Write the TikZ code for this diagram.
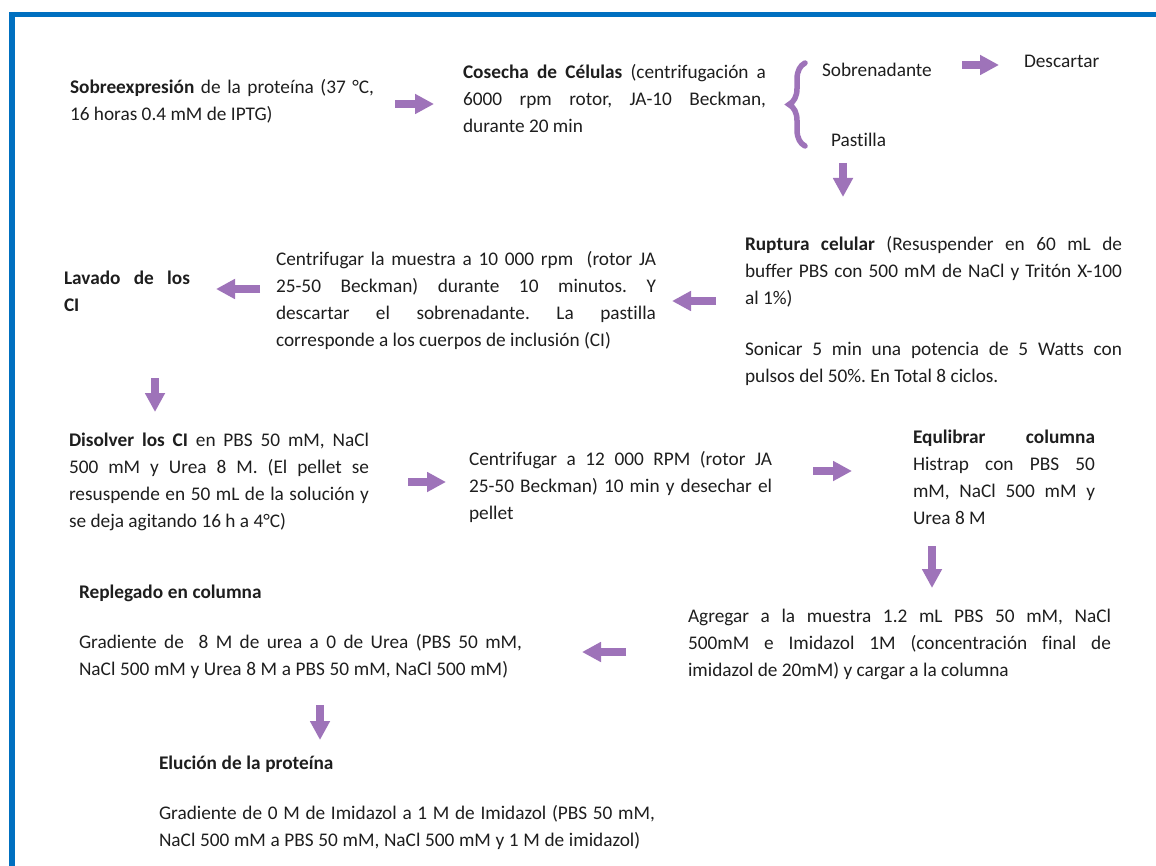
\documentclass[tikz,border=0pt]{standalone}
\usepackage{fontspec}
\setmainfont{Carlito}[Ligatures=NoCommon]
\usetikzlibrary{arrows.meta,decorations.pathreplacing}
\definecolor{bordeblue}{RGB}{0,112,192}
\definecolor{flecha}{RGB}{158,115,185}
\definecolor{tinta}{RGB}{30,30,30}
\newcommand\strutA{\rule{0pt}{20pt}}
\newcommand\apretado{\spaceskip=0.24em plus 0.4em minus 0.02em\relax}
\hyphenpenalty=10000\relax
\exhyphenpenalty=10000\relax
\frenchspacing
\begin{document}
\begin{tikzpicture}[x=1pt,y=-1pt,
  txt/.style={anchor=north west, inner sep=0pt, outer sep=0pt,
    font=\fontsize{19.3}{27}\selectfont, text=tinta},
  jbox/.style={txt, align=justify, text width=#1},
  flechita/.style={draw=flecha, line width=8pt, -{Triangle[width=19pt,length=19pt]}},
  llave/.style={draw=flecha, line width=5.5pt, line cap=round, decorate, decoration={brace, amplitude=16pt}},
  marco/.style={draw=bordeblue},
]
\useasboundingbox (0,0) rectangle (1156,866);
% frame
\draw[marco, line width=5pt] (9,14.5) -- (1156,14.5);
\draw[marco, line width=6pt] (12,12) -- (12,866);

% texts
\node[jbox=304] (sobre) at (70,74) {\strutA\textbf{Sobreexpresión} de la proteína (37 °C,\linebreak 16 horas 0.4 mM de IPTG)};
\node[jbox=303] (cosecha) at (463,59) {\strutA\textbf{Cosecha de Células} (centrifugación a\linebreak 6000 rpm rotor, JA-10 Beckman,\linebreak durante 20 min};
\node[txt] (sobren) at (822,57) {\strutA{}Sobrenadante};
\node[txt] (descartar) at (1024,48) {\strutA{}Descartar};
\node[txt] (pastilla) at (831,127) {\strutA{}Pastilla};
\node[jbox=377] (ruptura) at (745,231) {\strutA\textbf{Ruptura celular} (Resuspender en 60 mL de\linebreak buffer PBS con 500 mM de NaCl y Tritón X-100\linebreak al 1\%)\\[24pt]Sonicar 5 min una potencia de 5 Watts con\linebreak pulsos del 50\%. En Total 8 ciclos.};
\node[jbox=380] (centri1) at (276,246) {\strutA{}Centrifugar la muestra a 10 000 rpm\ \ (rotor JA\linebreak 25-50 Beckman) durante 10 minutos. Y\linebreak descartar el sobrenadante. La pastilla\linebreak corresponde a los cuerpos de inclusión (CI)};
\node[jbox=126] (lavado) at (64,265) {\strutA\textbf{Lavado de los}\linebreak\textbf{CI}};
\node[jbox=300] (disolver) at (69,426) {\strutA\textbf{Disolver los CI} en PBS 50 mM, NaCl\linebreak 500 mM y Urea 8 M. (El pellet se\linebreak resuspende en 50 mL de la solución y\linebreak se deja agitando 16 h a 4°C)};
\node[jbox=303] (centri2) at (469,445) {\strutA{}Centrifugar a 12 000 RPM (rotor JA\linebreak 25-50 Beckman) 10 min y desechar el\linebreak pellet};
\node[jbox=182] (equil) at (913,423) {\strutA\textbf{Equlibrar columna}\linebreak Histrap con PBS 50\linebreak mM, NaCl 500 mM y\linebreak Urea 8 M};
\node[jbox=423] (agregar) at (688,602) {\strutA{}Agregar a la muestra 1.2 mL PBS 50 mM, NaCl\linebreak 500mM e Imidazol 1M (concentración final de\linebreak imidazol de 20mM) y cargar a la columna};
\node[jbox=443] (replegado) at (79,578) {\apretado\strutA\textbf{Replegado en columna}\\[23pt]Gradiente de\ \ 8 M de urea a 0 de Urea (PBS 50 mM,\linebreak NaCl 500 mM y Urea 8 M a PBS 50 mM, NaCl 500 mM)};
\node[jbox=496] (elucion) at (159,749) {\apretado\strutA\textbf{Elución de la proteína}\\[23pt]Gradiente de 0 M de Imidazol a 1 M de Imidazol (PBS 50 mM,\linebreak NaCl 500 mM a PBS 50 mM, NaCl 500 mM y 1 M de imidazol)};

% brace
\coordinate (llaveabajo) at (805,146);
\coordinate (llavearriba) at (805,63);
\draw[llave] (llaveabajo) -- (llavearriba);

% arrow ends
\coordinate (a1s) at (395,104); \coordinate (a1e) at (434,104);
\coordinate (a2s) at (962,65);  \coordinate (a2e) at (999,65);
\coordinate (a3s) at (843,163); \coordinate (a3e) at (843,197);
\coordinate (a4s) at (716,301); \coordinate (a4e) at (672,301);
\coordinate (a5s) at (260,289); \coordinate (a5e) at (216,289);
\coordinate (a6s) at (155,378); \coordinate (a6e) at (155,412);
\coordinate (a7s) at (408,482); \coordinate (a7e) at (446,482);
\coordinate (a8s) at (813,471); \coordinate (a8e) at (852,471);
\coordinate (a9s) at (932,546); \coordinate (a9e) at (932,588);
\coordinate (a10s) at (626,652); \coordinate (a10e) at (582,652);
\coordinate (a11s) at (320,705); \coordinate (a11e) at (320,740);

\draw[flechita] (a1s) -- (a1e);
\draw[flechita] (a2s) -- (a2e);
\draw[flechita] (a3s) -- (a3e);
\draw[flechita] (a4s) -- (a4e);
\draw[flechita] (a5s) -- (a5e);
\draw[flechita] (a6s) -- (a6e);
\draw[flechita] (a7s) -- (a7e);
\draw[flechita] (a8s) -- (a8e);
\draw[flechita] (a9s) -- (a9e);
\draw[flechita] (a10s) -- (a10e);
\draw[flechita] (a11s) -- (a11e);
\end{tikzpicture}
\end{document}
